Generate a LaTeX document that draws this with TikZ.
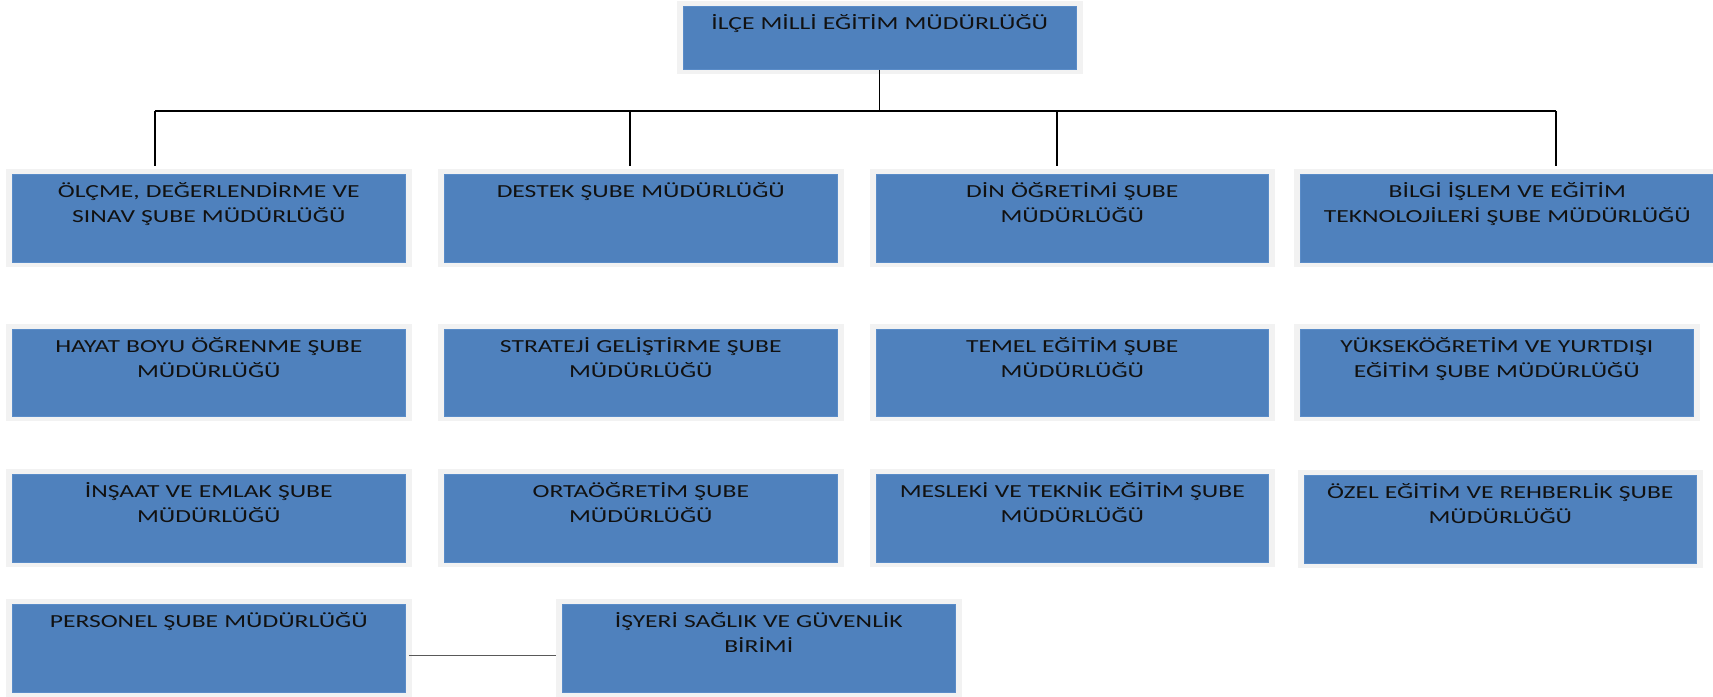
\documentclass[tikz,border=0pt]{standalone}
\usepackage{fontspec}
\setmainfont{Carlito}
\newfontfamily\boxfont[FakeStretch=1.39]{Carlito}
\definecolor{boxblue}{HTML}{4F81BD}
\definecolor{boxedge}{HTML}{5A8CC8}
\definecolor{framegray}{HTML}{F2F2F2}
\definecolor{txt}{HTML}{111111}
\definecolor{linkgray}{HTML}{595959}
\tikzset{
  bluebox/.style={fill=boxblue, draw=boxedge, line width=0.6bp, inner sep=0pt, anchor=north west},
  boxtext/.style={inner sep=0pt, align=center, anchor=north, text=txt,
    font=\boxfont\fontsize{18.4bp}{25bp}\selectfont},
  orgline/.style={draw=black, line width=1.3bp},
  sideline/.style={draw=linkgray, line width=1.4bp}
}
% name, x1, y1, x2, y2, text
\newcommand\orgbox[6]{%
  \fill[framegray] (#2-6,#3-5) rectangle (#4+7,#5+5);
  \node[bluebox, minimum width={(#4-#2)*1bp}, minimum height={(#5-#3)*1bp}] (#1) at (#2,#3) {};
  \node[boxtext, text width={(#4-#2-4)*1bp}] (#1-t) at ([yshift=-6.2bp]#1.north) {\strut #6};
}
\begin{document}
\begin{tikzpicture}[x=1bp,y=-1bp]
\useasboundingbox (0,0) rectangle (1713,697);
\fill[white] (0,0) rectangle (1713,697);

\orgbox{top}{683}{6}{1076}{69}{İLÇE MİLLİ EĞİTİM MÜDÜRLÜĞÜ}

\orgbox{olcme}{12}{174}{405}{262}{ÖLÇME, DEĞERLENDİRME VE\\SINAV ŞUBE MÜDÜRLÜĞÜ}
\orgbox{destek}{444}{174}{837}{262}{DESTEK ŞUBE MÜDÜRLÜĞÜ}
\orgbox{din}{876}{174}{1268}{262}{DİN ÖĞRETİMİ ŞUBE\\MÜDÜRLÜĞÜ}
\orgbox{bilgi}{1300}{174}{1714}{262}{BİLGİ İŞLEM VE EĞİTİM\\TEKNOLOJİLERİ ŞUBE MÜDÜRLÜĞÜ}

\orgbox{hayat}{12}{329}{405}{416}{HAYAT BOYU ÖĞRENME ŞUBE\\MÜDÜRLÜĞÜ}
\orgbox{strateji}{444}{329}{837}{416}{STRATEJİ GELİŞTİRME ŞUBE\\MÜDÜRLÜĞÜ}
\orgbox{temel}{876}{329}{1268}{416}{TEMEL EĞİTİM ŞUBE\\MÜDÜRLÜĞÜ}
\orgbox{yuksek}{1300}{329}{1693}{416}{YÜKSEKÖĞRETİM VE YURTDIŞI\\EĞİTİM ŞUBE MÜDÜRLÜĞÜ}

\orgbox{insaat}{12}{474}{405}{562}{İNŞAAT VE EMLAK ŞUBE\\MÜDÜRLÜĞÜ}
\orgbox{orta}{444}{474}{837}{562}{ORTAÖĞRETİM ŞUBE\\MÜDÜRLÜĞÜ}
\orgbox{mesleki}{876}{474}{1268}{562}{MESLEKİ VE TEKNİK EĞİTİM ŞUBE\\MÜDÜRLÜĞÜ}
\orgbox{ozel}{1304}{475}{1696}{563}{ÖZEL EĞİTİM VE REHBERLİK ŞUBE\\MÜDÜRLÜĞÜ}

\orgbox{personel}{12}{604}{405}{692}{PERSONEL ŞUBE MÜDÜRLÜĞÜ}
\orgbox{isyeri}{562}{604}{955}{692}{İŞYERİ SAĞLIK VE GÜVENLİK\\BİRİMİ}

% hierarchy connectors
\coordinate (busL) at (155,111);
\coordinate (busR) at (1556,111);
\coordinate (d1) at (155,166);
\coordinate (b2) at (630,111);
\coordinate (d2) at (630,166);
\coordinate (b3) at (1057,111);
\coordinate (d3) at (1057,166);
\coordinate (d4) at (1556,166);
\draw[orgline] (busL) -- (busR);
\draw[orgline] (top.south) -- (top.south |- busL);
\draw[orgline] (busL) -- (d1);
\draw[orgline] (b2) -- (d2);
\draw[orgline] (b3) -- (d3);
\draw[orgline] (busR) -- (d4);

% side link
\draw[sideline] ([xshift=3bp,yshift=-7bp]personel.east) -- ([xshift=-6bp,yshift=-7bp]isyeri.west);
\end{tikzpicture}
\end{document}
